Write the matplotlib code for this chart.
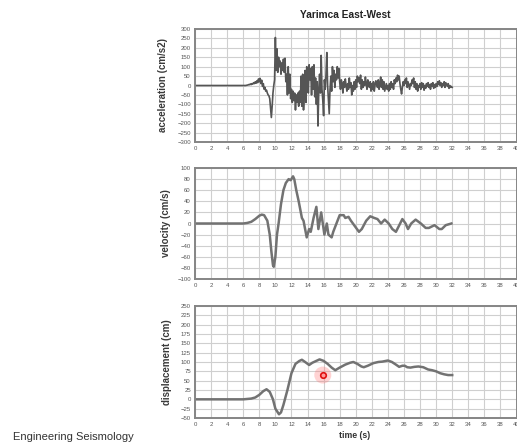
import numpy as np
import matplotlib
matplotlib.use("Agg")
import matplotlib.pyplot as plt

# ---------------- data ----------------
title = "Yarimca East-West"
footer = "Engineering Seismology"

# acceleration (cm/s2), sampled every 0.1 s from 6.0 s to 32.0 s (zero before)
acc_t0 = 6.0
acc_dt = 0.1
acc_vals = [
    0, 0, 0, 0, 1, 2, 3, 5, 4, 8,
    5, 10, 8, 15, 10, 20, 12, 25, 15, 35,
    20, 38, 10, 28, -5, 10, -20, -10, -30, -25,
    -40, -50, -55, -70, -120, -170, -110, -40, 0, 30,
    255, 80, 195, 70, 150, 100, 130, 60, 120, 80,
    140, 70, 145, 20, 60, -50, 100, -40, 60, -70,
    -20, -90, -30, -80, -40, -130, -50, -90, -40, -110,
    -30, -90, 50, -110, 60, -130, -50, 80, -90, 100,
    70, -40, 110, 30, 90, -50, 100, -20, 110, -60,
    40, -100, 20, -215, -30, 60, -40, 160, -20, -80,
    -160, 30, -20, 60, 175, 0, -80, -150, -20, 50,
    -30, 100, 20, 80, -10, 60, 30, 100, 40, 90,
    20, -20, 30, 10, -40, 20, -10, 35, 0, -30,
    10, -20, 40, -10, 15, -50, 0, -30, 20, -20,
    30, -10, 50, 20, 40, 10, 55, -20, 30, -10,
    20, 0, 45, 10, -20, 30, 0, -10, 20, -30,
    10, -20, 20, -30, 0, 25, 10, -10, 30, -20,
    10, 45, -10, 30, -20, 20, -30, -10, 10, -20,
    0, -30, 10, -20, 20, -10, 10, -20, 30, 10,
    40, 20, 55, 30, 50, 10, -20, -45, -10, 20,
    0, 30, 10, 40, -10, 20, 0, -20, 10, 0,
    30, 10, 40, -10, 20, -20, 10, -30, 0, -10,
    10, -20, 15, -10, 10, -25, 0, -15, 10, -5,
    15, -10, 5, -20, 10, -5, 15, -15, 5, -10,
    10, -5, 20, 5, 25, 0, 15, -10, 10, 0,
    20, -10, 15, 5, -5, 10, -15, 0, -10, -5,
    -10,
]

# velocity (cm/s)
vel_t = [0, 6.0, 6.5, 7.0, 7.5, 8.0, 8.3, 8.6, 9.0, 9.3, 9.5, 9.7, 9.8, 10.0,
         10.2, 10.4, 10.7, 11.0, 11.3, 11.65, 11.9, 12.2, 12.35, 12.6, 12.9,
         13.3, 13.5, 13.9, 14.2, 14.4, 14.75, 15.1, 15.35, 15.7, 16.1, 16.4,
         16.6, 17.0, 17.2, 18.0, 18.5, 18.7, 19.1, 19.4, 19.9, 20.4, 20.75,
         21.3, 21.8, 22.3, 22.7, 23.15, 23.6, 24.1, 24.55, 25.0, 25.8, 26.2,
         26.5, 26.9, 27.45, 28.1, 28.7, 29.1, 29.8, 30.4, 30.7, 31.2, 31.9]
vel_vals = [0, 0, 1, 3, 8, 14, 16, 15, 5, -20, -50, -75, -78, -60,
            -20, 0, 35, 60, 73, 80, 78, 85, 80, 60, 40,
            10, 5, -25, -10, -15, 10, 30, -10, 20, -20, 0,
            -20, -25, -15, 15, 15, 10, 12, 5, -5, -15, -10,
            5, 13, 10, 8, 0, 7, 0, -10, -15, 8, 0,
            -10, 0, 7, 0, -8, -8, -3, -10, -10, -3, 0]

# displacement (cm)
disp_t = [0, 6.0, 7.0, 7.5, 8.0, 8.5, 8.9, 9.3, 9.7, 10.0, 10.45, 10.7, 11.0,
          11.5, 12.0, 12.5, 13.0, 13.3, 13.7, 14.2, 14.6, 15.0, 15.5, 16.0,
          16.5, 17.0, 17.45, 18.0, 18.7, 19.3, 19.7, 20.2, 20.7, 21.0, 21.5,
          22.2, 22.8, 23.3, 24.0, 24.5, 25.0, 25.4, 25.8, 26.1, 26.4, 26.8,
          27.3, 27.8, 28.4, 29.0, 29.5, 30.0, 30.5, 31.0, 31.5, 32.0]
disp_vals = [0, 0, 2, 5, 12, 22, 27, 20, 0, -25, -40, -35, -15,
             25, 70, 95, 103, 106, 100, 92, 98, 102, 107, 103,
             95, 85, 78, 85, 93, 98, 100, 95, 88, 86, 90,
             97, 100, 101, 104, 100, 93, 87, 90, 90, 86, 85,
             87, 88, 86, 80, 78, 75, 70, 67, 65, 65]

cursor_t, cursor_d = [15.9], [65]

x_ticks = list(range(0, 42, 2))
acc_ticks = list(range(-300, 301, 50))
vel_ticks = list(range(-100, 101, 20))
disp_ticks = list(range(-50, 251, 25))

# ---------------- figure ----------------
W, H = 517, 442
fig = plt.figure(figsize=(W / 100, H / 100), dpi=100)
FONT = ["Liberation Sans", "DejaVu Sans"]

def box(left, top, right, bottom):
    return [left / W, 1 - bottom / H, (right - left) / W, (bottom - top) / H]

LINE = "#555555"
GRID = "#cfcfcf"
FRAME = "#858585"

def style(ax, yticks, ylim, ylabel, lab_x):
    ax.set_xlim(0, 40)
    ax.set_ylim(*ylim)
    ax.set_xticks(x_ticks)
    ax.set_yticks(yticks)
    ax.grid(True, color=GRID, linewidth=0.8)
    ax.set_axisbelow(True)
    ax.tick_params(length=0, labelsize=4.3, colors="#555555", pad=3)
    for lab in ax.get_xticklabels() + ax.get_yticklabels():
        lab.set_family(FONT)
    for s in ax.spines.values():
        s.set_color(FRAME)
        s.set_linewidth(1.4)
    pos = ax.get_position()
    fig.text(lab_x / W, (pos.y0 + pos.y1) / 2, ylabel, rotation=90,
             ha="center", va="center", fontsize=7.0, fontweight="bold",
             family=FONT, color="#3a3a3a")

# acceleration
ax1 = fig.add_axes(box(195, 29, 516.5, 142))
acc_t = acc_t0 + acc_dt * np.arange(len(acc_vals))
ax1.plot([0] + list(acc_t), [0] + acc_vals, color=LINE, linewidth=1.2)
style(ax1, acc_ticks, (-300, 300), "acceleration (cm/s2)", 163)

# velocity
ax2 = fig.add_axes(box(195, 168, 516.5, 279))
ax2.plot(vel_t, vel_vals, color="#727272", linewidth=1.8)
style(ax2, vel_ticks, (-100, 100), "velocity (cm/s)", 166)

# displacement
ax3 = fig.add_axes(box(195, 306, 516.5, 418))
ax3.plot(disp_t, disp_vals, color="#727272", linewidth=1.8)
ax3.scatter(cursor_t, cursor_d, s=150, color="#ff7070", alpha=0.3,
            edgecolors="none", zorder=4)
ax3.scatter(cursor_t, cursor_d, s=16, facecolor="#ff9a9a",
            edgecolors="#e01010", linewidths=1.2, zorder=5)
style(ax3, disp_ticks, (-50, 250), "displacement (cm)", 167)

fig.text(355 / W, 1 - 436 / H, "time (s)", ha="center", va="center",
         fontsize=6.3, fontweight="bold", family=FONT, color="#333333")
fig.text(345 / W, 1 - 15 / H, title, ha="center", va="center",
         fontsize=7.3, fontweight="bold", family=FONT, color="#222222")
fig.text(13 / W, 1 - 437 / H, footer, ha="left", va="center",
         fontsize=8.0, family=FONT, color="#333333")

fig.savefig("out.png", dpi=100)
